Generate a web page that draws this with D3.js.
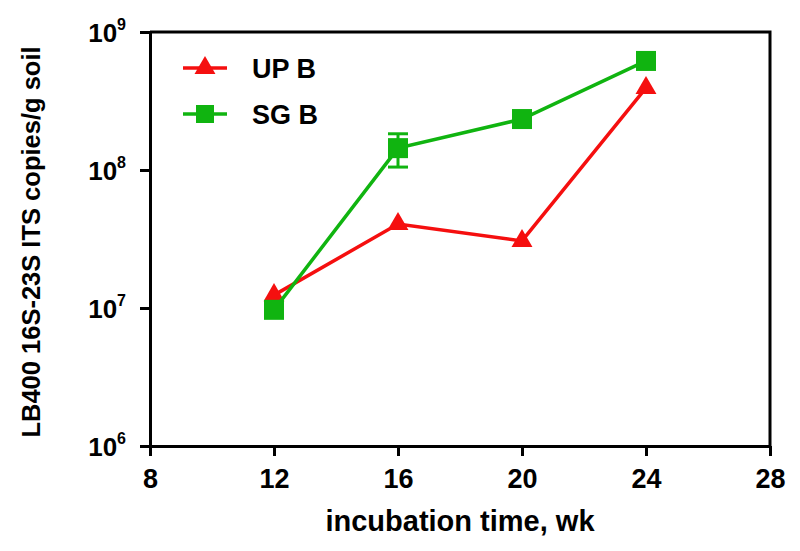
<!DOCTYPE html>
<html>
<head>
<meta charset="utf-8">
<script src="https://cdn.jsdelivr.net/npm/d3@7"></script>
<style>
  html, body { margin: 0; padding: 0; background: #fff; }
  svg { display: block; font-family: "Liberation Sans", Arial, sans-serif; font-weight: bold; }
</style>
</head>
<body>
<svg id="chart" width="800" height="551"></svg>
<script>
// ---- data ----
const weeks = [12, 16, 20, 24];
const upB = [1.24e7, 4.06e7, 3.06e7, 3.93e8];
const sgB = [9.7e6, 1.44e8, 2.34e8, 6.17e8];
const sgBErr = [0, 0.39e8, 0, 0];
const upBErr = [0, 0, 0, 0];
const xTicks = [8, 12, 16, 20, 24, 28];
const yTickExps = [6, 7, 8, 9];
const seriesNames = ["UP B", "SG B"];

const svg = d3.select("#chart");
const mLeft = 150, mRight = 770, mTop = 32, mBottom = 446;

const x = d3.scaleLinear().domain([8, 28]).range([mLeft, mRight]);
const y = d3.scaleLog().domain([1e6, 1e9]).range([mBottom, mTop]);

const red = "#f50f0f", green = "#10b410";

// frame (top and right)
svg.append("path")
  .attr("d", `M${mLeft},${mTop}H${mRight}V${mBottom}`)
  .attr("fill", "none").attr("stroke", "#000").attr("stroke-width", 3);

// x axis
const xAxis = svg.append("g").attr("transform", `translate(0,${mBottom})`)
  .call(d3.axisBottom(x).tickValues(xTicks).tickSize(10).tickPadding(13).tickSizeOuter(0));
xAxis.select(".domain").attr("stroke-width", 3);
xAxis.selectAll(".tick line").attr("stroke-width", 3);
xAxis.selectAll(".tick text").attr("font-size", 27).attr("font-family", "Liberation Sans, Arial, sans-serif").attr("font-weight", "bold").attr("fill", "#000");

// y axis
const yAxis = svg.append("g").attr("transform", `translate(${mLeft},0)`)
  .call(d3.axisLeft(y).tickValues(yTickExps.map(e => Math.pow(10, e))).tickSize(10).tickFormat("").tickSizeOuter(0));
yAxis.select(".domain").attr("stroke-width", 3);
yAxis.selectAll(".tick line").attr("stroke-width", 3);

// y tick labels with superscripts
const yl = svg.append("g");
yTickExps.forEach(e => {
  const t = yl.append("text")
    .attr("x", 126).attr("y", y(Math.pow(10, e)) + 10)
    .attr("text-anchor", "end").attr("font-size", 26).attr("fill", "#000");
  t.append("tspan").text("10");
  t.append("tspan").attr("font-size", 16).attr("dy", -12).text(String(e));
});

// axis titles
svg.append("text")
  .attr("x", 460).attr("y", 531).attr("text-anchor", "middle")
  .attr("font-size", 29).attr("fill", "#000")
  .text("incubation time, wk");
svg.append("text")
  .attr("transform", `translate(40,242) rotate(-90)`)
  .attr("text-anchor", "middle").attr("font-size", 25.5).attr("fill", "#000")
  .text("LB400 16S-23S ITS copies/g soil");

// markers
const triPath = d3.symbol().type(d3.symbolTriangle).size(190)();
const sqSize = 20;

function drawSeries(vals, errs, color, marker) {
  const g = svg.append("g");
  const line = d3.line().x((d, i) => x(weeks[i])).y(d => y(d));
  g.append("path").datum(vals).attr("d", line)
    .attr("fill", "none").attr("stroke", color).attr("stroke-width", 3.5);
  vals.forEach((v, i) => {
    if (errs[i] > 0) {
      const cx = x(weeks[i]);
      const y1 = y(v + errs[i]), y0 = y(v - errs[i]);
      g.append("line").attr("x1", cx).attr("x2", cx).attr("y1", y1).attr("y2", y0)
        .attr("stroke", color).attr("stroke-width", 3);
      [y1, y0].forEach(yy => g.append("line").attr("x1", cx - 10).attr("x2", cx + 10)
        .attr("y1", yy).attr("y2", yy).attr("stroke", color).attr("stroke-width", 3));
    }
  });
  vals.forEach((v, i) => {
    const cx = x(weeks[i]), cy = y(v);
    if (marker === "tri") {
      g.append("path").attr("d", triPath).attr("transform", `translate(${cx},${cy})`).attr("fill", color);
    } else {
      g.append("rect").attr("x", cx - sqSize / 2).attr("y", cy - sqSize / 2)
        .attr("width", sqSize).attr("height", sqSize).attr("fill", color);
    }
  });
}
drawSeries(upB, upBErr, red, "tri");
drawSeries(sgB, sgBErr, green, "sq");

// legend
const legend = [
  { name: seriesNames[0], color: red, marker: "tri", y: 68 },
  { name: seriesNames[1], color: green, marker: "sq", y: 114 }
];
legend.forEach(l => {
  svg.append("line").attr("x1", 183).attr("x2", 227).attr("y1", l.y).attr("y2", l.y)
    .attr("stroke", l.color).attr("stroke-width", 3.5);
  if (l.marker === "tri") {
    svg.append("path").attr("d", triPath).attr("transform", `translate(205,${l.y})`).attr("fill", l.color);
  } else {
    svg.append("rect").attr("x", 205 - 9).attr("y", l.y - 9).attr("width", 18).attr("height", 18).attr("fill", l.color);
  }
  svg.append("text").attr("x", 252).attr("y", l.y + 10).attr("font-size", 27).attr("fill", "#000").text(l.name);
});
</script>
</body>
</html>
